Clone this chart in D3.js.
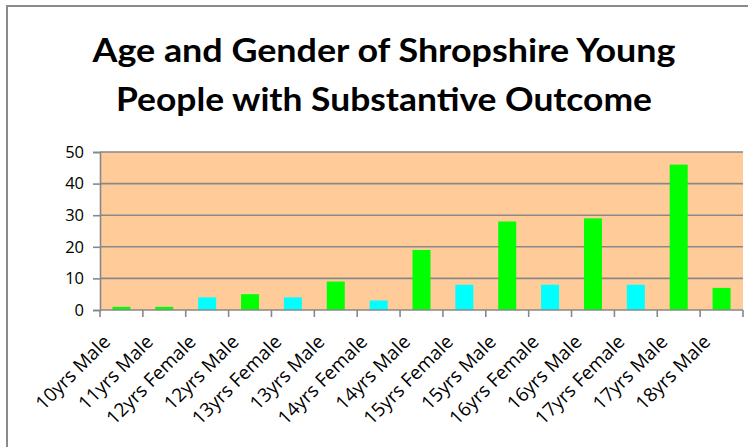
<!DOCTYPE html>
<html lang="en">
<head>
    <meta charset="UTF-8"/>
    <title>Age and Gender of Shropshire Young People</title>
    <script src="https://d3js.org/d3.v7.min.js" charset="utf-8"></script>
    <style type="text/css">
        body { margin: 0; background: #ffffff; }
        text { font-family: "Open Sans", sans-serif; fill: #000; }
        .title { font-family: Lato, "Open Sans", sans-serif; font-weight: 700; font-size: 33px; }
        .xlabel { font-size: 19px; }
        .ylabel { font-size: 16.5px; }
    </style>
</head>
<body>
<div id="diagram"></div>
<script type="text/javascript">

    var categories = ["10yrs Male", "11yrs Male", "12yrs Female", "12yrs Male", "13yrs Female",
        "13yrs Male", "14yrs Female", "14yrs Male", "15yrs Female", "15yrs Male",
        "16yrs Female", "16yrs Male", "17yrs Female", "17yrs Male", "18yrs Male"];
    var values = [1, 1, 4, 5, 4, 9, 3, 19, 8, 28, 8, 29, 8, 46, 7];
    var yTicks = [0, 10, 20, 30, 40, 50];
    var titleLines = ["Age and Gender of Shropshire Young", "People with Substantive Outcome"];
    var titleWidths = [583, 536];

    var width = 748, height = 447;
    var margin = {top: 152, right: 5, bottom: 137, left: 100};
    var plotW = width - margin.left - margin.right,
        plotH = height - margin.top - margin.bottom;

    var svg = d3.select("#diagram")
        .append("svg")
        .attr("width", width)
        .attr("height", height);

    // outer chart border (only top/left visible in the crop)
    svg.append("rect")
        .attr("x", 7).attr("y", 6)
        .attr("width", 800).attr("height", 500)
        .style("fill", "none")
        .style("stroke", "#8a8a8a")
        .style("stroke-width", 2);

    svg.selectAll("text.title")
        .data(titleLines)
        .enter()
        .append("text")
        .attr("class", "title")
        .attr("x", 384)
        .attr("y", function(d, i) { return 62 + i * 49; })
        .attr("text-anchor", "middle")
        .attr("textLength", function(d, i) { return titleWidths[i]; })
        .attr("lengthAdjust", "spacingAndGlyphs")
        .text(function(d) { return d; });

    var g = svg.append("g")
        .attr("transform", "translate(" + margin.left + "," + margin.top + ")");

    var x = d3.scaleBand()
        .domain(categories)
        .range([0, plotW])
        .paddingInner(0.58)
        .paddingOuter(0.29);

    var y = d3.scaleLinear()
        .domain([0, 50])
        .range([plotH, 0]);

    g.append("rect")
        .attr("width", plotW)
        .attr("height", plotH)
        .style("fill", "#ffcc99");

    // gridlines
    g.selectAll("line.grid")
        .data(yTicks.slice(1))
        .enter()
        .append("line")
        .attr("x1", 0).attr("x2", plotW)
        .attr("y1", function(d) { return y(d); })
        .attr("y2", function(d) { return y(d); })
        .style("stroke", "#888888")
        .style("stroke-width", 1.6);

    g.selectAll("rect.bar")
        .data(values)
        .enter()
        .append("rect")
        .attr("x", function(d, i) { return x(categories[i]); })
        .attr("y", function(d) { return y(d); })
        .attr("width", x.bandwidth())
        .attr("height", function(d) { return plotH - y(d); })
        .style("fill", function(d, i) { return categories[i].indexOf("Female") >= 0 ? "#00ffff" : "#00ff00"; });

    // y axis
    var yAxis = g.append("g")
        .call(d3.axisLeft(y).tickValues(yTicks).tickSize(7).tickPadding(9));
    yAxis.selectAll("path, line").style("stroke", "#888888").style("stroke-width", 1.6);
    yAxis.selectAll("text")
        .attr("class", "ylabel")
        .attr("font-size", null)
        .attr("font-family", null);
    yAxis.attr("font-size", null).attr("font-family", null);

    // x axis with ticks at category boundaries
    var step = x.step();
    var bounds = d3.range(categories.length + 1).map(function(i) { return i * step; });
    g.append("line")
        .attr("x1", 0).attr("x2", plotW)
        .attr("y1", plotH).attr("y2", plotH)
        .style("stroke", "#888888").style("stroke-width", 1.6);
    g.selectAll("line.xtick")
        .data(bounds)
        .enter()
        .append("line")
        .attr("x1", function(d) { return d; })
        .attr("x2", function(d) { return d; })
        .attr("y1", plotH).attr("y2", plotH + 7)
        .style("stroke", "#888888").style("stroke-width", 1.6);

    g.selectAll("text.xlabel")
        .data(categories)
        .enter()
        .append("text")
        .attr("class", "xlabel")
        .attr("text-anchor", "end")
        .attr("transform", function(d) {
            var cx = x(d) + x.bandwidth() / 2 - 10;   // shift left so the label ends under the bar
            return "translate(" + cx + "," + (plotH + 33) + ") rotate(-45)";
        })
        .text(function(d) { return d; });

</script>
</body>
</html>
